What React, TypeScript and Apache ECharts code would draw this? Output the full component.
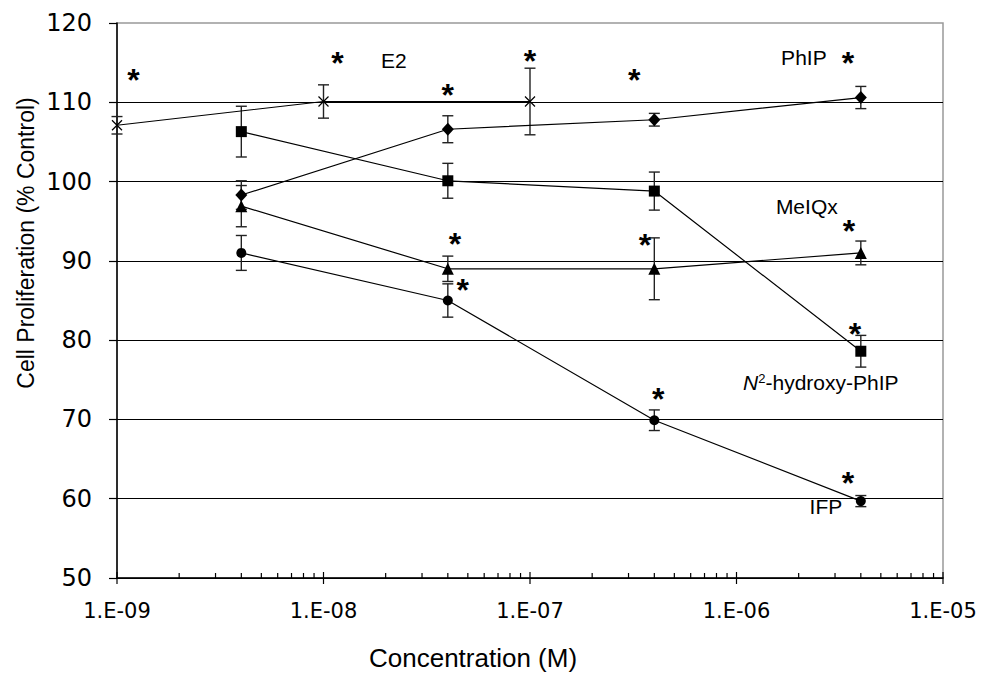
import React, { useEffect, useRef } from "react";
import * as echarts from "echarts";

// ---- data ----
const doseX = [4e-9, 4e-8, 4e-7, 4e-6];
const e2X = [1e-9, 1e-8, 1e-7];

const e2Y = [107.1, 110.1, 110.1];
const e2Err = [1.1, 2.1, 4.2];
const phipY = [98.3, 106.6, 107.8, 110.6];
const phipErr = [1.8, 1.7, 0.8, 1.4];
const n2Y = [106.3, 100.1, 98.8, 78.6];
const n2Err = [3.2, 2.2, 2.4, 2.0];
const meiqxY = [96.9, 89.0, 89.0, 91.0];
const meiqxErr = [2.6, 1.6, 3.9, 1.5];
const ifpY = [91.0, 85.0, 69.9, 59.7];
const ifpErr = [2.2, 2.1, 1.3, 0.7];

// significance asterisks (data coordinates)
const starX = [1.2e-9, 1.17e-8, 4.0e-8, 1.0e-7, 3.2e-7, 3.47e-6, 4.33e-8, 3.6e-7, 3.5e-6, 4.72e-8, 3.75e-6, 4.18e-7, 3.47e-6];
const starY = [113.4, 115.6, 111.5, 115.8, 113.4, 115.6, 92.7, 92.6, 94.4, 87.0, 81.45, 73.2, 62.6];

// series name labels (data coordinates)
const nameText = ["E2", "PhIP", "MeIQx", "N2", "IFP"];
const nameX = [2.19e-8, 2.12e-6, 2.19e-6, 2.56e-6, 2.71e-6];
const nameY = [115.3, 115.7, 96.8, 74.7, 59.0];

// axes
const xMin = 1e-9;
const xMax = 1e-5;
const xTickLabels = ["1.E-09", "1.E-08", "1.E-07", "1.E-06", "1.E-05"];
const yMin = 50;
const yMax = 120;
const yStep = 10;
const xTitle = "Concentration (M)";
const yTitle = "Cell Proliferation (% Control)";

const zip = (xs: number[], ys: number[]) => xs.map((x, i) => [x, ys[i]]);
const zip3 = (xs: number[], ys: number[], es: number[]) => xs.map((x, i) => [x, ys[i], es[i]]);

export default function App() {
  const ref = useRef<HTMLDivElement>(null);
  useEffect(() => {
    if (!ref.current) return;
    const chart = echarts.init(ref.current, null, { renderer: "svg" });

    // axis tick positions (majors at decades, minors 2..9)
    const tickData: number[][] = [];
    for (let e = -9; e <= -5; e++) {
      tickData.push([Math.pow(10, e), 1]);
      if (e < -5) for (let k = 2; k <= 9; k++) tickData.push([k * Math.pow(10, e), 0]);
    }

    const errData = [
      ...zip3(e2X, e2Y, e2Err),
      ...zip3(doseX, phipY, phipErr),
      ...zip3(doseX, n2Y, n2Err),
      ...zip3(doseX, meiqxY, meiqxErr),
      ...zip3(doseX, ifpY, ifpErr),
    ];

    const lineBase = {
      type: "line",
      lineStyle: { color: "#000", width: 1.2 },
      itemStyle: { color: "#000" },
      z: 3,
      silent: true,
    };

    const option: any = {
      animation: false,
      grid: {
        left: 117,
        right: 42,
        top: 23,
        bottom: 97,
        show: true,
        borderColor: "#999",
        borderWidth: 1.5,
        backgroundColor: "transparent",
      },
      xAxis: {
        type: "log",
        logBase: 10,
        min: xMin,
        max: xMax,
        axisLine: { show: true, lineStyle: { color: "#000", width: 1.5 } },
        axisTick: { show: false },
        splitLine: { show: false },
        axisLabel: {
          color: "#000",
          fontFamily: "DejaVu Sans",
          fontSize: 21,
          margin: 22,
          formatter: (_v: number, i: number) => xTickLabels[i] ?? "",
        },
      },
      yAxis: {
        type: "value",
        min: yMin,
        max: yMax,
        interval: yStep,
        axisLine: { show: true, lineStyle: { color: "#000", width: 1.5 } },
        axisTick: { show: true, inside: false, length: 8, lineStyle: { color: "#000", width: 1.2 } },
        splitLine: { show: true, showMaxLine: false, lineStyle: { color: "#000", width: 1 } },
        axisLabel: {
          color: "#000",
          fontFamily: "DejaVu Sans",
          fontSize: 24,
          margin: 25,
        },
      },
      graphic: [
        {
          type: "text",
          x: 26,
          y: 243,
          rotation: Math.PI / 2,
          style: {
            text: yTitle,
            fontFamily: "Liberation Sans",
            fontSize: 23,
            fill: "#000",
            textAlign: "center",
            textVerticalAlign: "middle",
          },
        },
        {
          type: "text",
          x: 473,
          y: 658,
          style: {
            text: xTitle,
            fontFamily: "Liberation Sans",
            fontSize: 26,
            fill: "#000",
            textAlign: "center",
            textVerticalAlign: "middle",
          },
        },
      ],
      series: [
        {
          type: "custom",
          silent: true,
          z: 2,
          data: tickData,
          encode: { x: 0 },
          clip: false,
          renderItem: (_p: any, api: any) => {
            const p = api.coord([api.value(0), yMin]);
            const major = api.value(1) === 1;
            return {
              type: "line",
              shape: { x1: p[0], y1: p[1] - (major ? 6 : 5), x2: p[0], y2: p[1] + (major ? 6 : 0) },
              style: { stroke: "#000", lineWidth: 1.2 },
            };
          },
        },
        {
          type: "custom",
          silent: true,
          z: 2,
          clip: false,
          data: errData,
          encode: { x: 0, y: 1 },
          renderItem: (_p: any, api: any) => {
            const x = api.value(0);
            const y = api.value(1);
            const e = api.value(2);
            const t = api.coord([x, y + e]);
            const b = api.coord([x, y - e]);
            const w = 5.5;
            const st = { stroke: "#222", lineWidth: 1.4 };
            return {
              type: "group",
              children: [
                { type: "line", shape: { x1: t[0], y1: t[1], x2: b[0], y2: b[1] }, style: st },
                { type: "line", shape: { x1: t[0] - w, y1: t[1], x2: t[0] + w, y2: t[1] }, style: st },
                { type: "line", shape: { x1: b[0] - w, y1: b[1], x2: b[0] + w, y2: b[1] }, style: st },
              ],
            };
          },
        },
        {
          ...lineBase,
          name: "E2",
          data: zip(e2X, e2Y),
          symbol: "path://M0,0L10,10M0,10L10,0",
          symbolSize: 10,
          itemStyle: { color: "#fff", borderColor: "#000", borderWidth: 1.2 },
        },
        { ...lineBase, name: "PhIP", data: zip(doseX, phipY), symbol: "diamond", symbolSize: [12, 13] },
        { ...lineBase, name: "N2-hydroxy-PhIP", data: zip(doseX, n2Y), symbol: "rect", symbolSize: 11 },
        { ...lineBase, name: "MeIQx", data: zip(doseX, meiqxY), symbol: "triangle", symbolSize: 12 },
        { ...lineBase, name: "IFP", data: zip(doseX, ifpY), symbol: "circle", symbolSize: 10 },
        {
          type: "scatter",
          silent: true,
          z: 5,
          data: zip(starX, starY),
          symbolSize: 1,
          itemStyle: { color: "transparent", opacity: 1 },
          label: {
            show: true,
            position: "inside",
            formatter: "*",
            color: "#000",
            opacity: 1,
            fontFamily: "Liberation Sans",
            fontWeight: "bold",
            fontSize: 32,
            offset: [0, 5],
          },
        },
        {
          type: "scatter",
          silent: true,
          z: 5,
          data: nameX.map((x, i) => ({ value: [x, nameY[i]], name: nameText[i] })),
          symbolSize: 1,
          itemStyle: { color: "transparent", opacity: 1 },
          label: {
            show: true,
            position: "inside",
            color: "#000",
            opacity: 1,
            fontFamily: "Liberation Sans",
            fontSize: 21,
            formatter: (p: any) =>
              p.name === "N2" ? "{i|N}{s|2}{n|-hydroxy-PhIP}" : p.name,
            rich: {
              i: { fontFamily: "Liberation Sans", fontStyle: "italic", fontSize: 21, color: "#000" },
              s: { fontFamily: "Liberation Sans", fontSize: 13, color: "#000", verticalAlign: "top", padding: [0, 0, 8, 0] },
              n: { fontFamily: "Liberation Sans", fontSize: 21, color: "#000" },
            },
          },
        },
      ],
    };
    chart.setOption(option);
    return () => chart.dispose();
  }, []);
  return (
    <div
      ref={ref}
      style={{ position: "fixed", left: 0, top: 0, width: 985, height: 675, background: "#fff" }}
    />
  );
}
